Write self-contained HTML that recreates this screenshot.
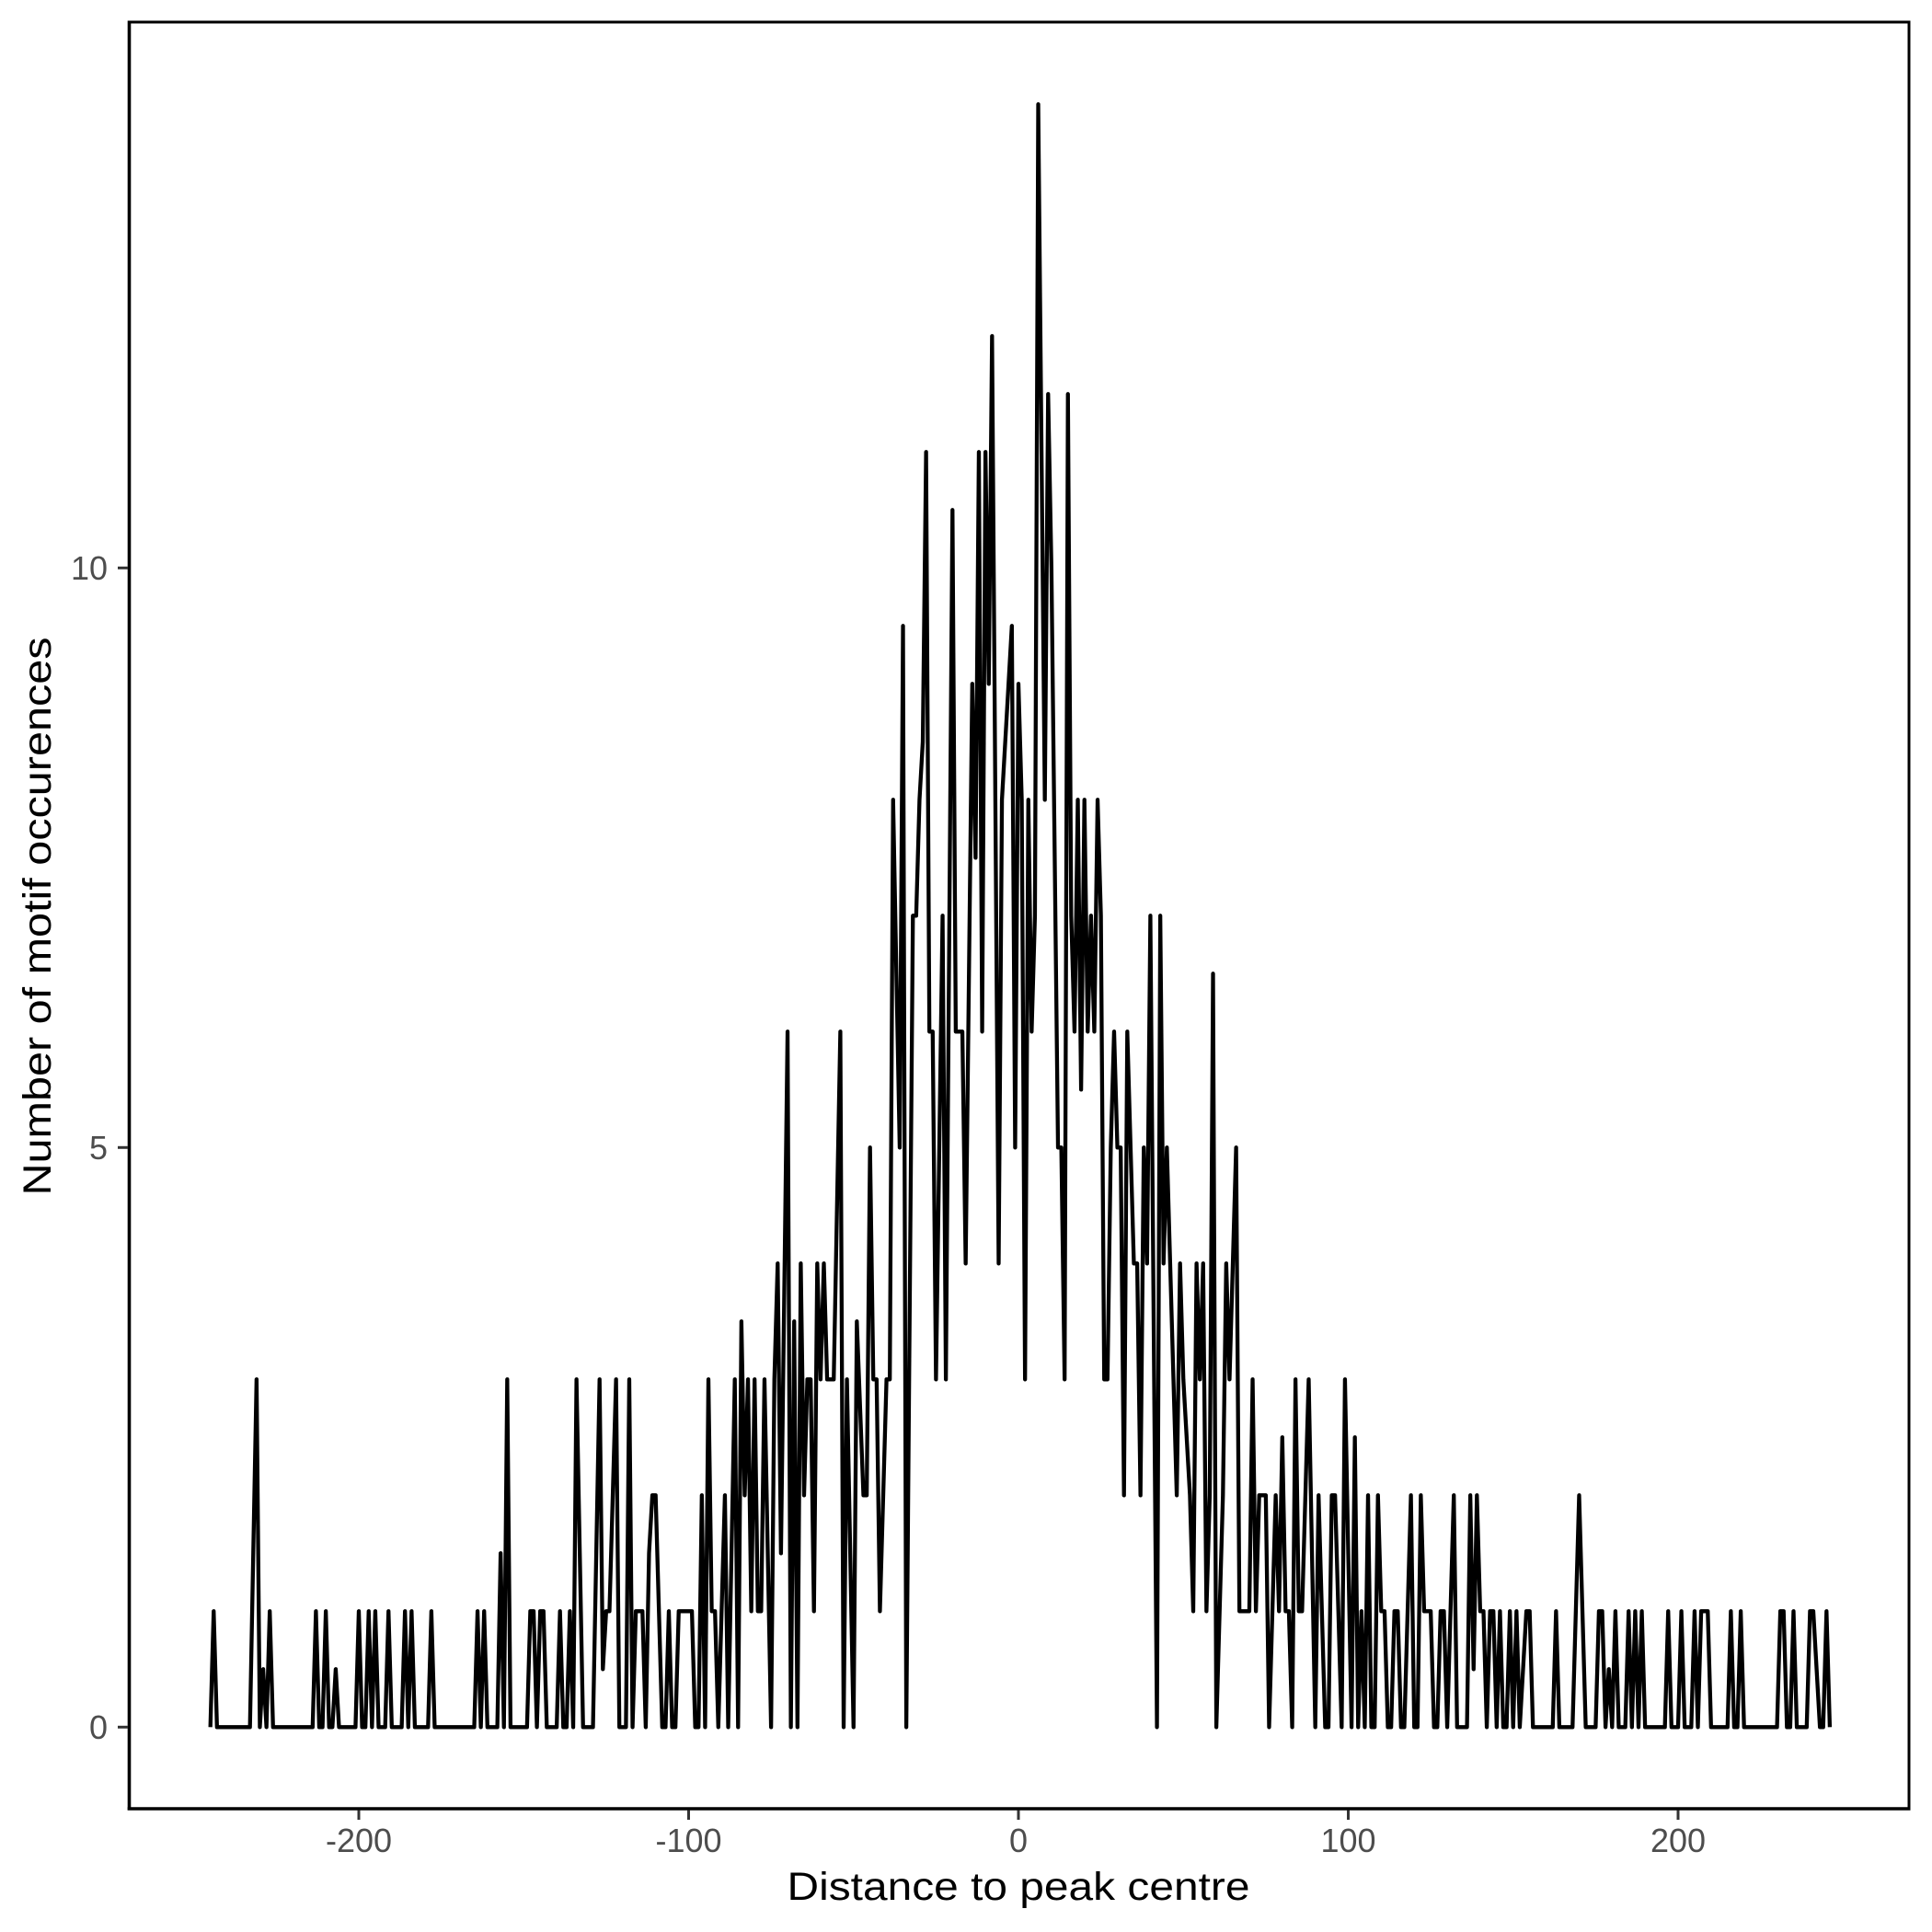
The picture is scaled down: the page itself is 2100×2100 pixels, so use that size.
<!DOCTYPE html>
<html>
<head>
<meta charset="utf-8">
<style>
  html, body { margin: 0; padding: 0; background: #ffffff; }
  svg { display: block; }
  text { font-family: "Liberation Sans", "DejaVu Sans", sans-serif; }
</style>
</head>
<body>
<svg width="2100" height="2100" viewBox="0 0 2100 2100" xmlns="http://www.w3.org/2000/svg">
  <rect x="0" y="0" width="2100" height="2100" fill="#ffffff"/>

  <!-- data line -->
  <g transform="translate(1107,1877.3) scale(3.585,-126)">
    <polyline fill="none" stroke="#000000" stroke-width="4.3" stroke-linejoin="round" stroke-linecap="butt" vector-effect="non-scaling-stroke"
      points="-245,0 -244,1 -243,0 -233,0 -232,1.5 -231,3 -230,0 -229,0.5 -228,0 -227,1 -226,0 -214,0 -213,1 -212,0 -211,0 -210,1 -209,0 -208,0 -207,0.5 -206,0 -201,0 -200,1 -199,0 -198,0 -197,1 -196,0 -195,1 -194,0 -192,0 -191,1 -190,0 -187,0 -186,1 -185,0 -184,1 -183,0 -179,0 -178,1 -177,0 -165,0 -164,1 -163,0 -162,1 -161,0 -158,0 -157,1.5 -156,0 -155,3 -154,0 -149,0 -148,1 -147,1 -146,0 -145,1 -144,1 -143,0 -140,0 -139,1 -138,0 -137,0 -136,1 -135,0 -134,3 -133,1.5 -132,0 -129,0 -128,1.5 -127,3 -126,0.5 -125,1 -124,1 -123,2 -122,3 -121,0 -119,0 -118,3 -117,0 -116,1 -115,1 -114,1 -113,0 -112,1.5 -111,2 -110,2 -109,1 -108,0 -107,0 -106,1 -105,0 -104,0 -103,1 -99,1 -98,0 -97,0 -96,2 -95,0 -94,3 -93,1 -92,1 -91,0 -90,1 -89,2 -88,0 -87,1.5 -86,3 -85,0 -84,3.5 -83,2 -82,3 -81,1 -80,3 -79,1 -78,1 -77,3 -76,1.5 -75,0 -74,3 -73,4 -72,1.5 -71,3.75 -70,6 -69,0 -68,3.5 -67,0 -66,4 -65,2 -64,3 -63,3 -62,1 -61,4 -60,3 -59,4 -58,3 -56,3 -55,4.5 -54,6 -53,0 -52,3 -51,1.5 -50,0 -49,3.5 -48,2.75 -47,2 -46,2 -45,5 -44,3 -43,3 -42,1 -41,2 -40,3 -39,3 -38,8 -37,6.5 -36,5 -35,9.5 -34,0 -33,3.5 -32,7 -31,7 -30,8 -29,8.5 -28,11 -27,6 -26,6 -25,3 -24,5 -23,7 -22,3 -21,6.75 -20,10.5 -19,6 -17,6 -16,4 -15,6.5 -14,9 -13,7.5 -12,11 -11,6 -10,11 -9,9 -8,12 -7,8 -6,4 -5,8 -4,8.5 -3,9 -2,9.5 -1,5 0,9 1,8 2,3 3,8 4,6 5,7 6,14 7,11 8,8 9,11.5 10,10 11,7.5 12,5 13,5 14,3 15,11.5 16,7 17,6 18,8 19,5.5 20,8 21,6 22,7 23,6 24,8 25,7 26,3 27,3 28,5 29,6 30,5 31,5 32,2 33,6 34,5 35,4 36,4 37,2 38,5 39,4 40,7 41,3.5 42,0 43,7 44,4 45,5 46,4 47,3 48,2 49,4 50,3 51,2.5 52,2 53,1 54,4 55,3 56,4 57,1 58,2 59,6.5 60,0 61,1 62,2 63,4 64,3 65,4 66,5 67,1 70,1 71,3 72,1 73,2 75,2 76,0 77,1 78,2 79,1 80,2.5 81,1 82,1 83,0 84,3 85,1 86,1 87,2 88,3 89,1.5 90,0 91,2 92,1 93,0 94,0 95,2 96,2 97,1 98,0 99,3 100,1.5 101,0 102,2.5 103,0 104,1 105,0 106,2 107,0 108,0 109,2 110,1 111,1 112,0 113,0 114,1 115,1 116,0 117,0 118,1 119,2 120,0 121,0 122,2 123,1 125,1 126,0 127,0 128,1 129,1 130,0 132,2 133,0 136,0 137,2 138,0.5 139,2 140,1 141,1 142,0 143,1 144,1 145,0 146,1 147,0 148,0 149,1 150,0 151,1 152,0 154,1 155,1 156,0 162,0 163,1 164,0 168,0 170,2 172,0 175,0 176,1 177,1 178,0 179,0.5 180,0 181,1 182,0 184,0 185,1 186,0 187,1 188,0 189,1 190,0 196,0 197,1 198,0 200,0 201,1 202,0 204,0 205,1 206,0 207,1 209,1 210,0 215,0 216,1 217,0 218,0 219,1 220,0 230,0 231,1 232,1 233,0 234,0 235,1 236,0 239,0 240,1 241,1 242,0.5 243,0 244,0 245,1 246,0"/>
  </g>

  <!-- panel border -->
  <rect x="140.5" y="24" width="1934.5" height="1942" fill="none" stroke="#000000" stroke-width="3"/>
  <!-- axis lines (slightly heavier) -->
  <line x1="140.5" y1="22.5" x2="140.5" y2="1967.5" stroke="#000000" stroke-width="3.6"/>
  <line x1="138.7" y1="1966" x2="2076.5" y2="1966" stroke="#000000" stroke-width="3.6"/>

  <!-- x ticks -->
  <g stroke="#333333" stroke-width="3">
    <line x1="390" y1="1967.5" x2="390" y2="1978"/>
    <line x1="748.5" y1="1967.5" x2="748.5" y2="1978"/>
    <line x1="1107" y1="1967.5" x2="1107" y2="1978"/>
    <line x1="1465.5" y1="1967.5" x2="1465.5" y2="1978"/>
    <line x1="1824" y1="1967.5" x2="1824" y2="1978"/>
  </g>
  <!-- y ticks -->
  <g stroke="#333333" stroke-width="3">
    <line x1="128" y1="1877.3" x2="139" y2="1877.3"/>
    <line x1="128" y1="1247.3" x2="139" y2="1247.3"/>
    <line x1="128" y1="617.3" x2="139" y2="617.3"/>
  </g>

  <!-- x tick labels -->
  <g fill="#4d4d4d" font-size="36" text-anchor="middle">
    <text x="390" y="2013">-200</text>
    <text x="748.5" y="2013">-100</text>
    <text x="1107" y="2013">0</text>
    <text x="1465.5" y="2013">100</text>
    <text x="1824" y="2013">200</text>
  </g>
  <!-- y tick labels -->
  <g fill="#4d4d4d" font-size="36" text-anchor="end">
    <text x="117" y="1890">0</text>
    <text x="117" y="1260">5</text>
    <text x="117" y="630">10</text>
  </g>

  <!-- axis titles -->
  <text x="1107" y="2065" font-size="43" fill="#000000" text-anchor="middle" textLength="503" lengthAdjust="spacingAndGlyphs">Distance to peak centre</text>
  <text transform="translate(55,996) rotate(-90)" font-size="43" fill="#000000" text-anchor="middle" textLength="607" lengthAdjust="spacingAndGlyphs">Number of motif occurences</text>
</svg>
</body>
</html>
